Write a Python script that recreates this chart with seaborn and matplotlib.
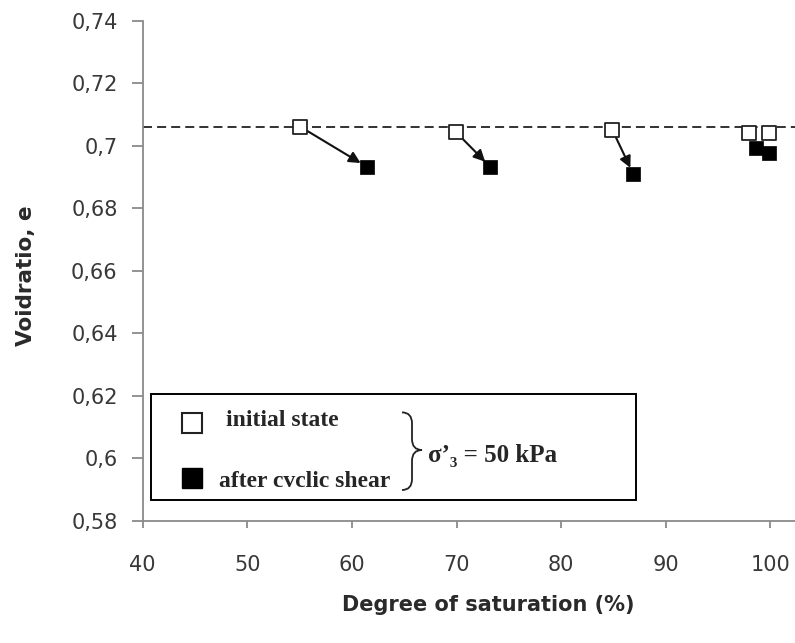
import numpy as np
import pandas as pd
import matplotlib
matplotlib.use("Agg")
import matplotlib.pyplot as plt
from matplotlib.path import Path
from matplotlib.patches import PathPatch, Rectangle
from matplotlib.lines import Line2D
import seaborn as sns

# ---- data ----
sat_initial = [55.05, 69.9, 84.9, 98.0, 99.9]
e_initial = [0.7061, 0.7045, 0.7050, 0.7040, 0.7042]
sat_after = [61.4, 73.2, 86.9, 98.6, 99.9]
e_after = [0.6933, 0.6933, 0.6909, 0.6993, 0.6977]
arrow_pairs = [0, 1, 2]
e_reference = 0.706
x_ticks = [40, 50, 60, 70, 80, 90, 100]
y_ticks = [0.58, 0.60, 0.62, 0.64, 0.66, 0.68, 0.70, 0.72, 0.74]
y_tick_labels = ["0,58", "0,6", "0,62", "0,64", "0,66", "0,68", "0,7", "0,72", "0,74"]
legend_labels = ["initial state", "after cvclic shear"]
group_label = "σ’₃ = 50 kPa"
x_label = "Degree of saturation (%)"
y_label = "Voidratio, e"

sns.set_theme(style="white")
plt.rcParams["font.family"] = ["DejaVu Sans"]

fig = plt.figure(figsize=(7.95, 6.43), dpi=100)
ax = fig.add_axes([0.1795, 0.1902, 0.8205, 0.7776])

df_i = pd.DataFrame({"S": sat_initial, "e": e_initial})
df_a = pd.DataFrame({"S": sat_after, "e": e_after})

ax.axhline(e_reference, color="#222222", lw=1.3, dashes=(5, 2.8), zorder=1)

for i in arrow_pairs:
    ax.annotate("", xy=(sat_after[i], e_after[i]), xytext=(sat_initial[i], e_initial[i]),
                arrowprops=dict(arrowstyle="-|>", color="#111111", lw=1.5,
                                shrinkA=6, shrinkB=5, mutation_scale=17),
                zorder=2)

sns.scatterplot(data=df_a, x="S", y="e", marker="s", s=115, color="black",
                edgecolor="black", linewidth=0.5, ax=ax, zorder=3, legend=False)
sns.scatterplot(data=df_i, x="S", y="e", marker="s", s=95, facecolor="white",
                edgecolor="#222222", linewidth=1.3, ax=ax, zorder=4, legend=False)

ax.set_xlim(40, 102.35)
ax.set_ylim(0.58, 0.74)
ax.set_xticks(x_ticks)
ax.set_xticklabels([str(t) for t in x_ticks])
ax.set_yticks(y_ticks)
ax.set_yticklabels(y_tick_labels)

for s in ["top", "right"]:
    ax.spines[s].set_visible(False)
for s in ["left", "bottom"]:
    ax.spines[s].set_color("#8a8a8a")
    ax.spines[s].set_linewidth(1.3)

ax.tick_params(axis="x", direction="out", length=5, width=1.3, color="#8a8a8a",
               labelsize=15, labelcolor="#383838", pad=20, bottom=True)
ax.tick_params(axis="y", direction="out", length=8, width=1.3, color="#8a8a8a",
               labelsize=15, labelcolor="#383838", pad=10, left=True)

ax.set_xlabel(x_label, fontsize=15, fontweight="bold", color="#2a2a2a")
ax.set_ylabel(y_label, fontsize=15.5, fontweight="bold", color="#2a2a2a")
ax.xaxis.set_label_coords(0.529, -0.149)
ax.yaxis.set_label_coords(-0.163, 0.49)

# legend box
ax.add_patch(Rectangle((0.0127, 0.0424), 0.7436, 0.211, transform=ax.transAxes,
                       facecolor="white", edgecolor="black", lw=1.4, zorder=5))
ax.add_line(Line2D([0.0756], [0.1954], transform=ax.transAxes, marker="s", ms=14,
                   mfc="white", mec="#222222", mew=1.5, ls="none", zorder=6))
ax.add_line(Line2D([0.0756], [0.0854], transform=ax.transAxes, marker="s", ms=14,
                   mfc="black", mec="black", ls="none", zorder=6))
serif = ["Liberation Serif", "DejaVu Serif"]
ax.text(0.127, 0.2014, legend_labels[0], transform=ax.transAxes, fontsize=17,
        fontweight="bold", family=serif, va="center", ha="left", zorder=6)
ax.text(0.1177, 0.0794, legend_labels[1], transform=ax.transAxes, fontsize=17,
        fontweight="bold", family=serif, va="center", ha="left", zorder=6)
ax.text(0.4374, 0.1314, group_label, transform=ax.transAxes, fontsize=18,
        fontweight="bold", family=serif, va="center", ha="left", zorder=6)

# brace
x0, x1 = 0.3975, 0.4282
xm = (x0 + x1) / 2
yt, yb, yc = 0.2166, 0.0614, 0.1414
d = 0.022
verts = [(x0, yt), (xm, yt), (xm, yt - d),
         (xm, yc + d),
         (xm, yc), (x1, yc),
         (xm, yc), (xm, yc - d),
         (xm, yb + d),
         (xm, yb), (x0, yb)]
codes = [Path.MOVETO, Path.CURVE3, Path.CURVE3,
         Path.LINETO,
         Path.CURVE3, Path.CURVE3,
         Path.CURVE3, Path.CURVE3,
         Path.LINETO,
         Path.CURVE3, Path.CURVE3]
ax.add_patch(PathPatch(Path(verts, codes), transform=ax.transAxes, facecolor="none",
                       edgecolor="#222222", lw=1.3, zorder=6))

fig.savefig("out.png", dpi=100)
